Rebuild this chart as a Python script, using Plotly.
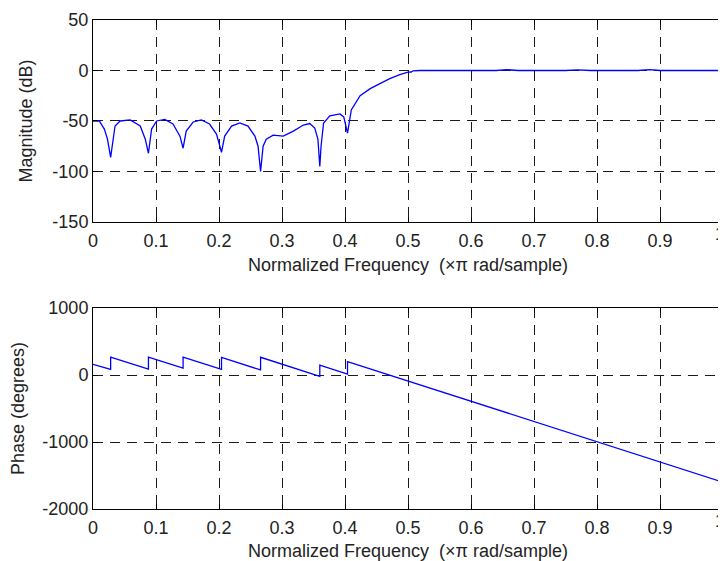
import plotly.graph_objects as go

# ---- Magnitude response ----
mag_freq = [0.000, 0.010, 0.018, 0.023, 0.028,
            0.035, 0.043, 0.059, 0.075, 0.083, 0.088,
            0.093, 0.101, 0.114, 0.127, 0.138, 0.143,
            0.148, 0.159, 0.172, 0.185, 0.196, 0.204,
            0.209, 0.220, 0.233, 0.246, 0.257, 0.262, 0.266,
            0.270, 0.275, 0.286, 0.302, 0.318, 0.334, 0.344, 0.352, 0.357, 0.360,
            0.362, 0.366, 0.376, 0.392, 0.398, 0.404,
            0.410, 0.424, 0.440, 0.455, 0.471, 0.487, 0.500, 0.505, 0.508, 0.519,
            0.600, 0.640, 0.657, 0.675, 0.750, 0.770, 0.790, 0.865, 0.884, 0.900, 1.000]
mag_db = [-50, -50, -58, -68, -86,
          -55, -50, -49, -55, -68, -82,
          -58, -50, -48.5, -53, -65, -77,
          -60, -51, -49, -53, -63, -81,
          -65, -55, -52, -55, -65, -75, -100,
          -75, -68, -64, -65, -60, -54, -52.5, -57, -68, -95,
          -75, -52, -45, -43, -46, -62,
          -39, -25, -18, -13, -8, -4, -1.6, -1.5, -0.3, 0,
          0, 0, 0.8, 0, 0, 0.7, 0, 0, 0.8, 0, 0]

# ---- Phase response ----
ph_freq = [0.000, 0.028, 0.028, 0.088, 0.088, 0.143, 0.143, 0.204, 0.204,
           0.266, 0.266, 0.360, 0.360, 0.404, 0.404, 1.000]
ph_deg = [158, 84, 267, 87, 267, 102, 267, 84, 262,
          76, 265, -20, 148, 12, 200, -1600]

x_ticks = [0, 0.1, 0.2, 0.3, 0.4, 0.5, 0.6, 0.7, 0.8, 0.9, 1]
# last label ("1") is drawn as an annotation nudged left so it stays inside the page
x_tick_text = ["0", "0.1", "0.2", "0.3", "0.4", "0.5", "0.6", "0.7", "0.8", "0.9", ""]
x_last_label = "1"
mag_ticks = [50, 0, -50, -100, -150]
mag_tick_text = ["50", "0", "-50", "-100", "-150"]
ph_ticks = [1000, 0, -1000, -2000]
ph_tick_text = ["1000", "0", "-1000", "-2000"]

x_title = "Normalized Frequency  (×π rad/sample)"

FONT = "Liberation Sans, Arial, Helvetica, sans-serif"
TXT = "#222222"
FS = 18

fig = go.Figure()
fig.add_trace(go.Scatter(x=mag_freq, y=mag_db, mode="lines",
                         line=dict(color="#0000ff", width=1.3),
                         xaxis="x", yaxis="y", showlegend=False))
fig.add_trace(go.Scatter(x=ph_freq, y=ph_deg, mode="lines",
                         line=dict(color="#0000ff", width=1.3),
                         xaxis="x2", yaxis="y2", showlegend=False))

common_axis = dict(
    showline=True, linecolor="black", linewidth=1, mirror="ticks",
    ticks="inside", ticklen=5, tickcolor="black", tickwidth=1,
    showgrid=True, gridcolor="#1a1a1a", gridwidth=1.2, griddash="10px,7px",
    zeroline=False, automargin=False,
    tickfont=dict(family=FONT, size=FS, color=TXT),
)

# the page body adds an 8px offset, so the figure is sized to compensate
fig.update_layout(
    width=718, height=553,
    margin=dict(l=85, r=3, t=12, b=52),
    paper_bgcolor="white", plot_bgcolor="white",
    font=dict(family=FONT, size=FS, color=TXT),
    xaxis=dict(domain=[0, 1], anchor="y", range=[0, 1],
               tickvals=x_ticks, ticktext=x_tick_text, ticklabelstandoff=2,
               title=dict(text=x_title, standoff=8,
                          font=dict(family=FONT, size=FS, color=TXT)),
               **common_axis),
    yaxis=dict(domain=[0.587, 1], anchor="x", range=[-150, 50],
               tickvals=mag_ticks, ticktext=mag_tick_text, ticklabelstandoff=0,
               title=dict(text="Magnitude (dB)", standoff=15,
                          font=dict(family=FONT, size=FS, color=TXT)),
               **common_axis),
    xaxis2=dict(domain=[0, 1], anchor="y2", range=[0, 1],
                tickvals=x_ticks, ticktext=x_tick_text, ticklabelstandoff=2,
                title=dict(text=x_title, standoff=9,
                           font=dict(family=FONT, size=FS, color=TXT)),
                **common_axis),
    yaxis2=dict(domain=[0, 0.411], anchor="x2", range=[-2000, 1000],
                tickvals=ph_ticks, ticktext=ph_tick_text, ticklabelstandoff=0,
                title=dict(text="Phase (degrees)", standoff=15,
                           font=dict(family=FONT, size=FS, color=TXT)),
                **common_axis),
)

for xr, yr in (("x", "y domain"), ("x2", "y2 domain")):
    fig.add_annotation(text=x_last_label, x=x_ticks[-1], xref=xr, y=0, yref=yr,
                       xanchor="right", yanchor="top", xshift=3, yshift=-1,
                       showarrow=False, borderpad=0,
                       font=dict(family=FONT, size=FS, color=TXT))

fig.write_html("out.html")
